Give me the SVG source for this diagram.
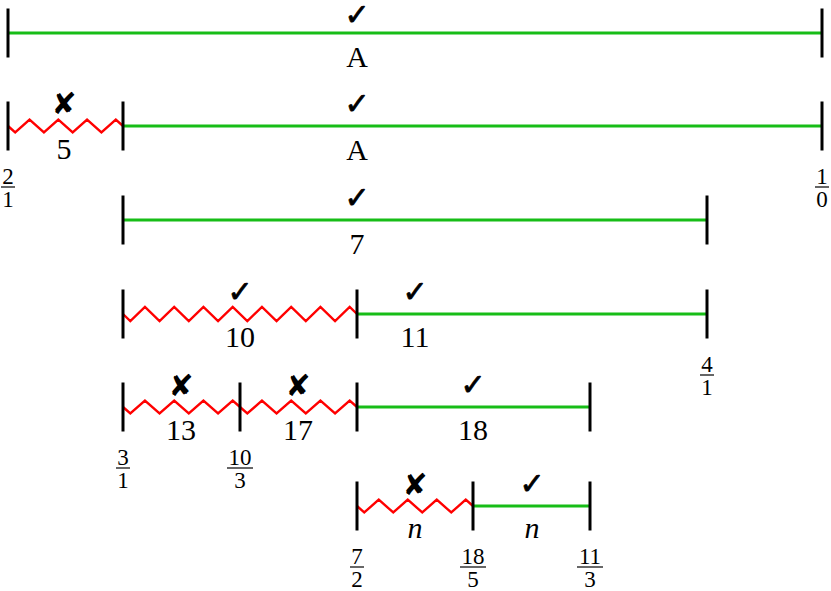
<svg xmlns="http://www.w3.org/2000/svg" width="831" height="591" viewBox="0 0 831 591">
<style>
.tick{stroke:#000;stroke-width:3;fill:none}
.ok{stroke:#17bd17;stroke-width:3;fill:none}
.bad{stroke:#ff0000;stroke-width:2.4;fill:none;stroke-linejoin:miter}
.bar{stroke:#000;stroke-width:1.2}
.lbl{font-family:"Liberation Serif",serif;font-size:30px;text-anchor:middle;fill:#000}
.it{font-style:italic}
.fr{font-family:"Liberation Serif",serif;font-size:23px;text-anchor:middle;fill:#000}
.mk{font-family:"DejaVu Sans",sans-serif;font-size:30px;text-anchor:middle;fill:#000;stroke:#000;stroke-width:0.8}
.mx{font-family:"DejaVu Sans",sans-serif;font-size:30px;text-anchor:middle;fill:#000}
</style>
<rect width="831" height="591" fill="#fff"/>
<g id="connectors">
<line class="ok" x1="8" y1="33" x2="822" y2="33"/>
<line class="ok" x1="123" y1="126" x2="822" y2="126"/>
<line class="ok" x1="123" y1="220" x2="707" y2="220"/>
<line class="ok" x1="357" y1="314" x2="707" y2="314"/>
<line class="ok" x1="357" y1="407" x2="590" y2="407"/>
<line class="ok" x1="473" y1="506" x2="590" y2="506"/>
<polyline class="bad" points="8,126 15.19,132.5 29.56,119.5 43.94,132.5 58.31,119.5 72.69,132.5 87.06,119.5 101.44,132.5 115.81,119.5 123,126"/>
<polyline class="bad" points="123,314 130.31,321 144.94,307 159.56,321 174.19,307 188.81,321 203.44,307 218.06,321 232.69,307 247.31,321 261.94,307 276.56,321 291.19,307 305.81,321 320.44,307 335.06,321 349.69,307 357,314"/>
<polyline class="bad" points="123,407 130.31,413.5 144.94,400.5 159.56,413.5 174.19,400.5 188.81,413.5 203.44,400.5 218.06,413.5 232.69,400.5 240,407"/>
<polyline class="bad" points="240,407 247.31,413.5 261.94,400.5 276.56,413.5 291.19,400.5 305.81,413.5 320.44,400.5 335.06,413.5 349.69,400.5 357,407"/>
<polyline class="bad" points="357,506 364.25,512.5 378.75,499.5 393.25,512.5 407.75,499.5 422.25,512.5 436.75,499.5 451.25,512.5 465.75,499.5 473,506"/>
</g>
<g id="row1">
<line class="tick" x1="8" y1="8.5" x2="8" y2="57.5"/>
<line class="tick" x1="822" y1="8.5" x2="822" y2="57.5"/>
<text class="mk" x="357" y="25">✓</text>
<text class="lbl" x="357" y="67">A</text>
</g>
<g id="row2">
<line class="tick" x1="8" y1="101.5" x2="8" y2="150.5"/>
<line class="tick" x1="123" y1="101.5" x2="123" y2="150.5"/>
<line class="tick" x1="822" y1="101.5" x2="822" y2="150.5"/>
<text class="mx" x="64" y="114">✘</text>
<text class="lbl" x="64" y="159">5</text>
<text class="mk" x="357" y="114">✓</text>
<text class="lbl" x="357" y="160">A</text>
<text class="fr" x="8" y="184">2</text><line class="bar" x1="1" y1="187" x2="15" y2="187"/><text class="fr" x="8" y="207">1</text>
<text class="fr" x="822" y="184">1</text><line class="bar" x1="815" y1="187" x2="829" y2="187"/><text class="fr" x="822" y="207">0</text>
</g>
<g id="row3">
<line class="tick" x1="123" y1="195.5" x2="123" y2="244.5"/>
<line class="tick" x1="707" y1="195.5" x2="707" y2="244.5"/>
<text class="mk" x="357" y="208">✓</text>
<text class="lbl" x="357" y="254">7</text>
</g>
<g id="row4">
<line class="tick" x1="123" y1="289.5" x2="123" y2="338.5"/>
<line class="tick" x1="357" y1="289.5" x2="357" y2="338.5"/>
<line class="tick" x1="707" y1="289.5" x2="707" y2="338.5"/>
<text class="mk" x="240" y="302">✓</text>
<text class="lbl" x="240" y="347">10</text>
<text class="mk" x="415" y="302">✓</text>
<text class="lbl" x="415" y="347">11</text>
<text class="fr" x="707" y="372">4</text><line class="bar" x1="700" y1="375" x2="714" y2="375"/><text class="fr" x="707" y="395">1</text>
</g>
<g id="row5">
<line class="tick" x1="123" y1="382.5" x2="123" y2="431.5"/>
<line class="tick" x1="240" y1="382.5" x2="240" y2="431.5"/>
<line class="tick" x1="357" y1="382.5" x2="357" y2="431.5"/>
<line class="tick" x1="590" y1="382.5" x2="590" y2="431.5"/>
<text class="mx" x="181" y="396">✘</text>
<text class="lbl" x="181" y="440">13</text>
<text class="mx" x="298" y="396">✘</text>
<text class="lbl" x="298" y="440">17</text>
<text class="mk" x="473" y="395">✓</text>
<text class="lbl" x="473" y="440">18</text>
<text class="fr" x="123" y="465">3</text><line class="bar" x1="116" y1="468" x2="130" y2="468"/><text class="fr" x="123" y="488">1</text>
<text class="fr" x="240" y="465">10</text><line class="bar" x1="227" y1="468" x2="253" y2="468"/><text class="fr" x="240" y="488">3</text>
</g>
<g id="row6">
<line class="tick" x1="357" y1="481.5" x2="357" y2="530.5"/>
<line class="tick" x1="473" y1="481.5" x2="473" y2="530.5"/>
<line class="tick" x1="590" y1="481.5" x2="590" y2="530.5"/>
<text class="mx" x="415" y="495">✘</text>
<text class="lbl it" x="415" y="538">n</text>
<text class="mk" x="532" y="494">✓</text>
<text class="lbl it" x="532" y="538">n</text>
<text class="fr" x="357" y="564">7</text><line class="bar" x1="350" y1="567" x2="364" y2="567"/><text class="fr" x="357" y="587">2</text>
<text class="fr" x="473" y="564">18</text><line class="bar" x1="460" y1="567" x2="486" y2="567"/><text class="fr" x="473" y="587">5</text>
<text class="fr" x="590" y="564">11</text><line class="bar" x1="577" y1="567" x2="603" y2="567"/><text class="fr" x="590" y="587">3</text>
</g>
</svg>
